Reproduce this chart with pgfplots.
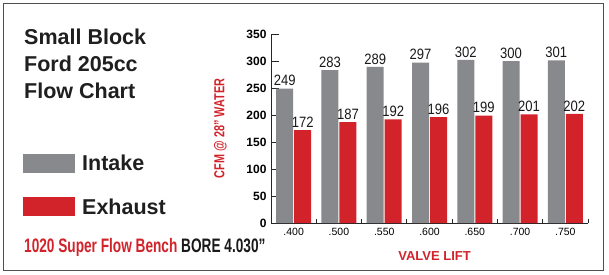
\documentclass[border=0pt]{standalone}
\usepackage{pgfplots}
\pgfplotsset{compat=1.18}
\usepackage{fontspec}
\setmainfont{Liberation Sans}
\usepackage{graphicx}
\definecolor{barGray}{HTML}{88898C}
\definecolor{barRed}{HTML}{D2232A}
\definecolor{frameGray}{HTML}{505050}
\pgfplotstableread{
x intake exhaust
0 249 172
1 283 187
2 289 192
3 297 196
4 302 199
5 300 201
6 301 202
}\flowdata
\begin{document}
\begin{tikzpicture}[x=1pt,y=1pt]
\useasboundingbox (0,0) rectangle (609,-275);
\draw[frameGray, line width=1.6pt] (3.5,-3.5) rectangle (603.5,-270.5);
\node[anchor=base west, inner sep=0pt, font=\fontsize{21.5}{24}\selectfont\bfseries, text=black!88] at (24,-45) {Small Block};
\node[anchor=base west, inner sep=0pt, font=\fontsize{21.5}{24}\selectfont\bfseries, text=black!88] at (24,-72) {Ford 205cc};
\node[anchor=base west, inner sep=0pt, font=\fontsize{21.5}{24}\selectfont\bfseries, text=black!88] at (24,-99) {Flow Chart};
\fill[barGray] (23,-154) rectangle (75,-173);
\fill[barRed] (23,-197) rectangle (75,-216);
\node[anchor=base west, inner sep=0pt, font=\fontsize{21.5}{24}\selectfont\bfseries, text=black!88] at (82,-170) {Intake};
\node[anchor=base west, inner sep=0pt, font=\fontsize{21.5}{24}\selectfont\bfseries, text=black!88] at (82,-214) {Exhaust};
\node[anchor=base west, inner sep=0pt, font=\fontsize{19.5}{22}\selectfont\bfseries] at (24,-252)
  {\scalebox{0.70}[1]{\textcolor{barRed}{1020 Super Flow Bench} \textcolor{black!90}{BORE 4.030”}}};
\begin{axis}[
  at={(271pt,-223pt)}, anchor=south west,
  scale only axis, width=317pt, height=189pt,
  xmin=-0.5, xmax=6.5, ymin=0, ymax=350,
  ybar=1pt, bar width=17pt,
  axis x line=bottom, axis y line=left,
  axis line style={-, black!85, line width=0.8pt},
  tick align=inside,
  major tick length=8pt, minor tick length=4.5pt,
  tick style={black!85, line width=0.8pt},
  ytick={0,50,...,350},
  xtick={0,...,6},
  xticklabels={.400,.500,.550,.600,.650,.700,.750},
  every major x tick/.append style={draw=none},
  minor xtick={0.5,1.5,...,6.5},
  /pgf/number format/assume math mode=true,
  yticklabel style={font=\fontsize{12}{12}\selectfont\bfseries, xshift=-1pt},
  xticklabel style={font=\fontsize{10.5}{12}\selectfont, yshift=-2pt},
  ylabel={\scalebox{0.75}[1]{CFM @ 28” WATER}},
  ylabel style={at={(axis description cs:-0.16,0.5)}, anchor=center, font=\fontsize{14.5}{16}\selectfont\bfseries, text=barRed},
  xlabel={VALVE LIFT},
  xlabel style={at={(axis description cs:0.516,-0.177)}, anchor=center, font=\fontsize{13}{15}\selectfont\bfseries, text=barRed},
  nodes near coords={\scalebox{0.87}[1]{\pgfmathprintnumber{\pgfplotspointmeta}}},
  every node near coord/.append style={font=\fontsize{15}{16}\selectfont, text=black!90, inner sep=1pt, yshift=1.5pt},
  clip=false,
]
\addplot[fill=barGray, draw=none] table[x=x, y=intake] {\flowdata};
\addplot[fill=barRed, draw=none] table[x=x, y=exhaust] {\flowdata};
\end{axis}
\end{tikzpicture}
\end{document}
